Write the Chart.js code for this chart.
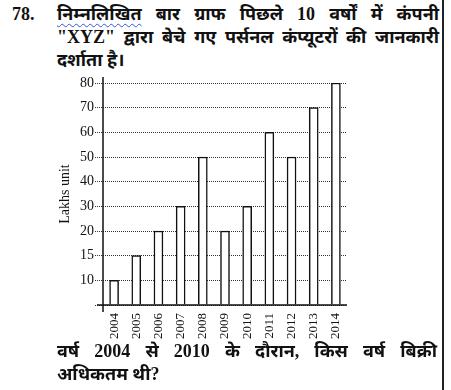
<!DOCTYPE html>
<html>
<head>
<meta charset="utf-8">
<script src="https://cdn.jsdelivr.net/npm/chart.js@4"></script>
<style>
  html, body { margin: 0; padding: 0; background: #fff; }
  body { width: 451px; height: 390px; position: relative; overflow: hidden;
         font-family: "Liberation Serif", "Noto Sans", serif; color: #111; }
  .frame { position: absolute; left: 442px; top: 0; width: 1.5px; height: 390px; background: #222; }
  .num { position: absolute; left: 12px; top: 4px; font-size: 18px; font-weight: bold; }
  .txt { position: absolute; left: 57px; width: 382px; font-size: 18px; font-weight: bold; line-height: 23px; }
  .txt div { white-space: nowrap; }
  .just { text-align: justify; text-align-last: justify; }
  .wavy { text-decoration: underline wavy #3355dd; text-decoration-thickness: 1px; text-underline-offset: 3px; }
  #wrap { position: absolute; left: 53px; top: 66px; width: 307px; height: 280px; }
</style>
</head>
<body>
<div class="frame"></div>
<div class="num">78.</div>
<div class="txt" style="top:3px">
  <div class="just"><span class="wavy">निम्नलिखित</span> बार ग्राफ पिछले 10 वर्षों में कंपनी</div>
  <div class="just">"XYZ" द्वारा बेचे गए पर्सनल कंप्यूटरों की जानकारी</div>
  <div>दर्शाता है।</div>
</div>
<div id="wrap"><canvas id="chart"></canvas></div>
<div class="txt" style="top:340px; width:380px">
  <div class="just">वर्ष 2004 से 2010 के दौरान, किस वर्ष बिक्री</div>
  <div>अधिकतम थी?</div>
</div>
<script>
// data
const years = ["2004", "2005", "2006", "2007", "2008", "2009", "2010", "2011", "2012", "2013", "2014"];
const sales = [10, 15, 20, 30, 50, 20, 30, 60, 50, 70, 80]; // lakhs unit
// the value axis in the picture is not linear: each level gets the same step
const levels = ["", "10", "15", "20", "30", "40", "50", "60", "70", "80"];

// axis lines stick out a bit past the plot, like the printed figure
const axisLines = {
  id: "axisLines",
  afterDraw(chart) {
    const { ctx, chartArea: a } = chart;
    ctx.save();
    ctx.strokeStyle = "#111";
    ctx.lineWidth = 1.5;
    ctx.beginPath();
    ctx.moveTo(a.left, a.top - 6);
    ctx.lineTo(a.left, a.bottom + 7);
    ctx.moveTo(a.left - 6, a.bottom);
    ctx.lineTo(a.right, a.bottom);
    ctx.stroke();
    ctx.restore();
  },
};

const ctx = document.getElementById("chart").getContext("2d");
new Chart(ctx, {
  type: "bar",
  data: {
    labels: years,
    datasets: [
      {
        data: sales.map(String),
        backgroundColor: "#fff",
        borderColor: "#111",
        borderWidth: 1.5,
        barThickness: 9,
      },
    ],
  },
  options: {
    responsive: true,
    maintainAspectRatio: false,
    animation: false,
    layout: { padding: { top: 17, right: 13, left: 0, bottom: 0 } },
    plugins: { legend: { display: false }, tooltip: { enabled: false } },
    scales: {
      x: {
        type: "category",
        offset: true,
        grid: { display: false },
        border: { display: false },
        ticks: {
          color: "#111",
          font: { family: "Liberation Serif", size: 13 },
          minRotation: 90,
          maxRotation: 90,
          padding: 0,
          autoSkip: false,
        },
        afterFit(scale) { scale.height = 41; },
      },
      y: {
        type: "category",
        labels: levels,
        reverse: true,
        offset: false,
        border: { display: false, dash: [1, 1] },
        grid: {
          color: "#333",
          lineWidth: 1,
          tickLength: 8,
          tickBorderDash: [1, 1],
        },
        ticks: {
          color: "#111",
          font: { family: "Liberation Serif", size: 14 },
          padding: 1,
          autoSkip: false,
        },
        title: {
          display: true,
          text: "Lakhs unit",
          color: "#111",
          font: { family: "Liberation Serif", size: 14 },
          padding: { top: 4, bottom: 2 },
        },
        afterFit(scale) { scale.width = 50; },
      },
    },
  },
  plugins: [axisLines],
});
</script>
</body>
</html>
